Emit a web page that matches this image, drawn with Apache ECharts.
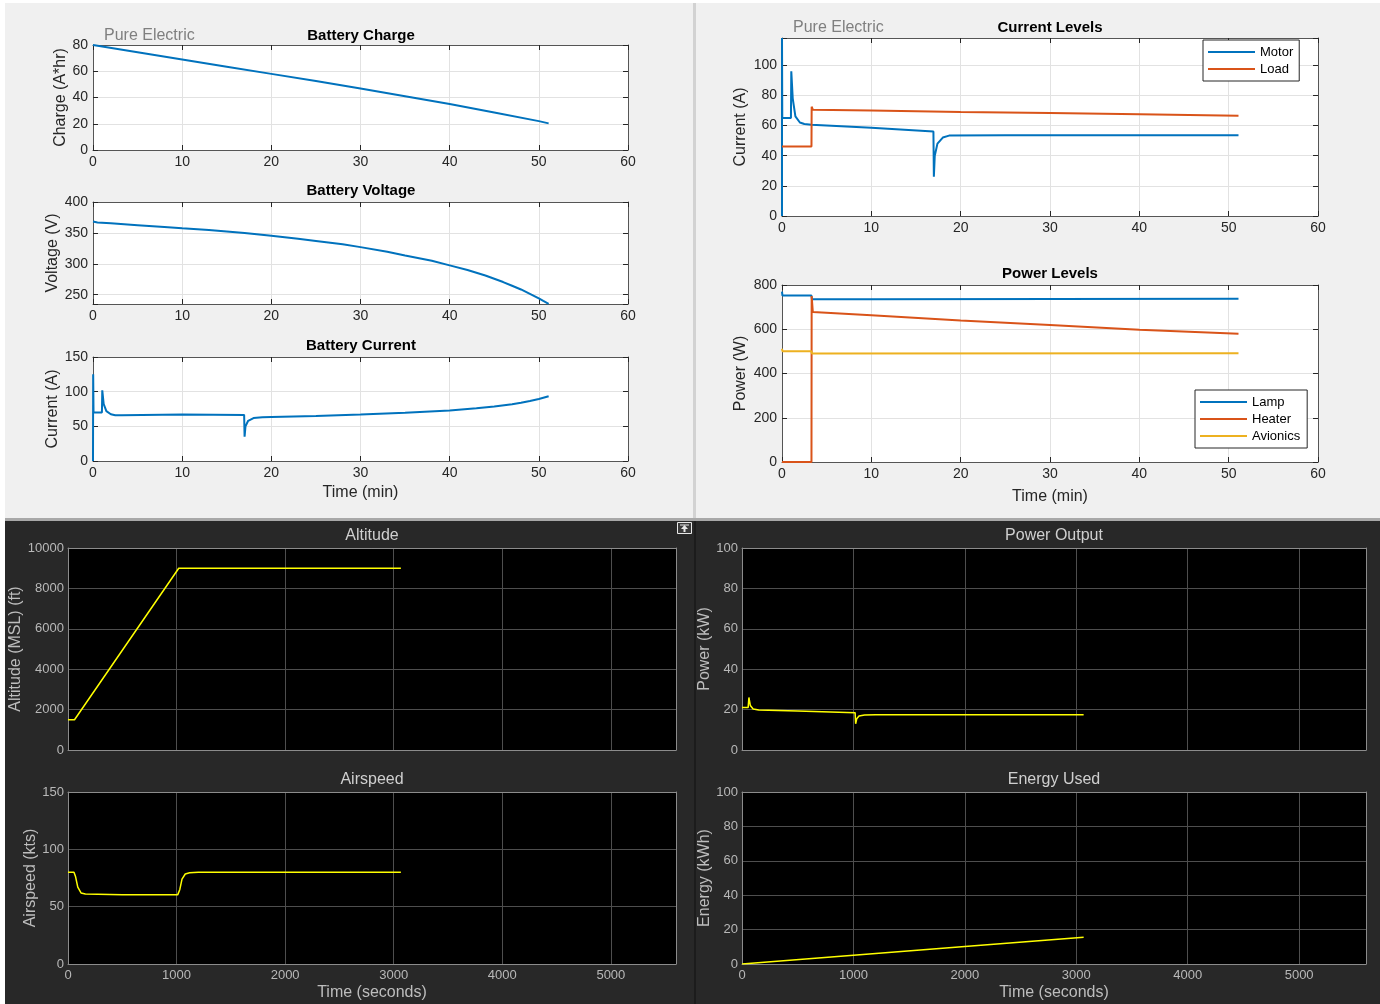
<!DOCTYPE html>
<html>
<head>
<meta charset="utf-8">
<script src="https://cdn.jsdelivr.net/npm/echarts@6/dist/echarts.min.js"></script>
<style>
html,body{margin:0;padding:0;background:#fff;}
#c{width:1380px;height:1004px;}
</style>
</head>
<body>
<div id="c"></div>
<script>
// ---------------- DATA ----------------
// Battery Charge (A*hr) vs time (min)
const chargeT = [0, 5, 10, 15, 20, 25, 30, 35, 40, 45, 50, 51.1];
const chargeV = [80, 74.5, 69, 63.5, 58, 52.5, 46.8, 41, 35, 28.5, 22, 20.3];
// Battery Voltage (V)
const voltT = [0, 0.5, 2, 5, 8, 10, 13, 15, 17, 20, 23, 25, 28, 30, 33, 35, 38, 40, 42, 44, 46, 47, 48, 49, 50, 50.5, 51.1];
const voltV = [368.5, 367, 365.5, 362.5, 359.5, 357.5, 354.8, 352.3, 349.8, 345.5, 340.5, 337, 331.5, 327, 319.5, 313.5, 305, 297.5, 290, 281, 270.5, 264.5, 258.5, 251.5, 244, 240, 235.3];
// Battery Current (A)
const battCurT = [0, 0.02, 0.06, 1.0, 1.04, 1.2, 1.5, 2.0, 2.5, 3.25, 3.3, 10, 16.95, 17.0, 17.1, 17.4, 18, 19, 20, 25, 30, 35, 40, 43, 45, 47, 48, 49, 50, 51.1];
const battCurV = [0, 125, 70, 70, 102, 82, 72, 67.5, 66, 66, 67.5, 67, 66.5, 35, 50, 58, 62, 63, 63.5, 65, 67, 69.5, 73, 76, 78.5, 82, 84, 86.5, 89.5, 93.5];
// Current Levels (A)
const motorT = [0, 0, 0.03, 1.0, 1.04, 1.2, 1.5, 2.0, 2.5, 3.3, 10, 16.95, 17.0, 17.1, 17.4, 18, 18.7, 25, 51.1];
const motorV = [0, 118, 65, 65, 96, 78, 66, 62, 61, 60.5, 58.5, 56, 26, 40, 48, 52, 53.3, 53.5, 53.5];
const loadT = [0, 3.3, 3.32, 3.45, 10, 20, 30, 40, 51.1];
const loadV = [46, 46, 72.5, 70.5, 70, 69, 68.3, 67.5, 66.5];
// Power Levels (W)
const lampT = [0, 0.05, 3.3, 3.35, 10, 51.1];
const lampV = [770, 752, 752, 736, 736, 738];
const heaterT = [0, 3.3, 3.32, 3.45, 10, 20, 30, 40, 51.1];
const heaterV = [0, 0, 750, 678, 663, 640, 619, 598, 580];
const avionicsT = [0, 0.05, 3.3, 3.35, 51.1];
const avionicsV = [512, 501, 501, 490, 491];
// Altitude (ft) vs time (s)
const altT = [0, 60, 1020, 3066];
const altV = [1500, 1500, 9000, 9000];
// Airspeed (kts)
const speedT = [0, 55, 70, 90, 120, 160, 500, 1010, 1030, 1050, 1080, 1120, 1200, 3066];
const speedV = [80, 80, 76, 67, 62, 61, 60.5, 60.3, 65, 74, 78.5, 79.5, 80, 80];
// Power Output (kW)
const pwrT = [0, 55, 62, 75, 100, 150, 500, 1015, 1020, 1030, 1050, 1100, 1200, 3066];
const pwrV = [21, 21, 26, 22, 20.3, 19.8, 19.3, 18.5, 13, 15.5, 16.8, 17.3, 17.5, 17.5];
// Energy Used (kWh)
const energyT = [0, 1000, 2000, 3066];
const energyV = [0, 5.1, 10.2, 15.5];

// ---------------- STYLE ----------------
const FONT = 'Liberation Sans, Arial, sans-serif';
const BLUE = '#0072BD', ORANGE = '#D95319', GOLD = '#EDB120', YEL = '#ffff00';
const LIGHT = {bg:'#ffffff', axis:'#555555', tick:'#262626', label:'#262626', name:'#262626', split:'#e2e2e2', size:14, ticks:true};
const DARK = {bg:'#000000', axis:'#8c8c8c', tick:'#8c8c8c', label:'#b8b8b8', name:'#bdbdbd', split:'#4e4e4e', size:13, ticks:false};

const zip = (a, b) => a.map((v, i) => [v, b[i]]);
const grids = [], xAxes = [], yAxes = [], series = [];

function fmt(interval) {
  return v => (Math.abs(v / interval - Math.round(v / interval)) < 1e-6 ? String(v) : '');
}

function panel(theme, box, xr, yr) {
  const gi = grids.length;
  grids.push({left: box[0], top: box[1], width: box[2], height: box[3], show: true,
              backgroundColor: theme.bg, borderWidth: 0, containLabel: false});
  const common = (r, pos, main) => ({
    type: 'value', gridIndex: gi, position: pos, min: r.min, max: r.max,
    interval: r.interval, minInterval: r.minInterval, maxInterval: r.maxInterval, splitNumber: r.splitNumber,
    axisLine: {show: true, onZero: false, lineStyle: {color: theme.axis, width: 1}},
    axisTick: {show: theme.ticks, inside: true, length: 5, lineStyle: {color: theme.tick}},
    axisLabel: {show: main && r.labels !== false, margin: r.margin || 5, color: theme.label,
                fontSize: theme.size, fontFamily: FONT, formatter: fmt(r.step)},
    splitLine: {show: main, lineStyle: {color: theme.split, width: 1}},
    name: main ? r.name : '', nameLocation: 'middle', nameGap: r.gap,
    nameTextStyle: {color: theme.name, fontSize: 16, fontFamily: FONT}
  });
  const xi = xAxes.length, yi = yAxes.length;
  xAxes.push(common(xr, 'bottom', true));
  xAxes.push(common(xr, 'top', false));
  yAxes.push(common(yr, 'left', true));
  yAxes.push(common(yr, 'right', false));
  return {x: xi, y: yi};
}

function line(ax, name, xs, ys, color, width) {
  series.push({type: 'line', name: name, xAxisIndex: ax.x, yAxisIndex: ax.y,
    data: zip(xs, ys), symbol: 'none', showSymbol: false, animation: false, silent: true,
    lineStyle: {color: color, width: width}, itemStyle: {color: color}});
}

const minX = {min: 0, max: 60, interval: 10, step: 10};

// Top-left
const pCharge = panel(LIGHT, [93, 45, 535, 105], minX,
  {min: 0, max: 80, interval: 20, step: 20, name: 'Charge (A*hr)', gap: 22});
const pVolt = panel(LIGHT, [93, 202, 535, 102], minX,
  {min: 235, max: 400, minInterval: 50, maxInterval: 50, splitNumber: 3, step: 50, name: 'Voltage (V)', gap: 29});
const pBattCur = panel(LIGHT, [93, 357, 535, 104], Object.assign({}, minX, {name: 'Time (min)', gap: 24}),
  {min: 0, max: 150, interval: 50, step: 50, name: 'Current (A)', gap: 29});
// Top-right
const pCurLev = panel(LIGHT, [782, 38, 536, 178], minX,
  {min: 0, max: 118, interval: 20, step: 20, name: 'Current (A)', gap: 33});
const pPowLev = panel(LIGHT, [782, 285, 536, 177], Object.assign({}, minX, {name: 'Time (min)', gap: 27}),
  {min: 0, max: 800, interval: 200, step: 200, name: 'Power (W)', gap: 33});
// Bottom-left
const secX = {min: 0, max: 5600, interval: 1000, step: 1000, labels: false};
const secXL = {min: 0, max: 5600, interval: 1000, step: 1000, name: 'Time (seconds)', gap: 21};
const pAlt = panel(DARK, [68, 548, 608, 202], secX,
  {min: 0, max: 10000, interval: 2000, step: 2000, name: 'Altitude (MSL) (ft)', gap: 41, margin: 4});
const pSpeed = panel(DARK, [68, 792, 608, 172], secXL,
  {min: 0, max: 150, interval: 50, step: 50, name: 'Airspeed (kts)', gap: 26, margin: 4});
// Bottom-right
const pPow = panel(DARK, [742, 548, 624, 202], secX,
  {min: 0, max: 100, interval: 20, step: 20, name: 'Power (kW)', gap: 26, margin: 4});
const pEnergy = panel(DARK, [742, 792, 624, 172], secXL,
  {min: 0, max: 100, interval: 20, step: 20, name: 'Energy (kWh)', gap: 26, margin: 4});

line(pCharge, 'Charge', chargeT, chargeV, BLUE, 2);
line(pVolt, 'Voltage', voltT, voltV, BLUE, 2);
line(pBattCur, 'Battery Current', battCurT, battCurV, BLUE, 2);
line(pCurLev, 'Motor', motorT, motorV, BLUE, 2);
line(pCurLev, 'Load', loadT, loadV, ORANGE, 2);
line(pPowLev, 'Lamp', lampT, lampV, BLUE, 2);
line(pPowLev, 'Heater', heaterT, heaterV, ORANGE, 2);
line(pPowLev, 'Avionics', avionicsT, avionicsV, GOLD, 2);
line(pAlt, 'Altitude', altT, altV, YEL, 1.5);
line(pSpeed, 'Airspeed', speedT, speedV, YEL, 1.5);
line(pPow, 'Power Output', pwrT, pwrV, YEL, 1.5);
line(pEnergy, 'Energy Used', energyT, energyV, YEL, 1.5);

const legendBase = {orient: 'vertical', backgroundColor: '#fff', borderColor: '#262626', borderWidth: 1,
  icon: 'rect', itemWidth: 47, itemHeight: 2, itemGap: 3, selectedMode: false,
  textStyle: {fontSize: 13, lineHeight: 14, fontFamily: FONT, color: '#000'}};

function txt(x, y, s, opt) {
  return Object.assign({type: 'text', silent: true, z: 50, x: x, y: y,
    style: Object.assign({text: s, fill: '#000', font: '16px ' + FONT, align: 'center', verticalAlign: 'middle'}, opt || {})});
}
const bold = {font: 'bold 15px ' + FONT};
const gray = {font: '16px ' + FONT, fill: '#7f7f7f', align: 'left'};
const darkT = {font: '16px ' + FONT, fill: '#cfcfcf'};

const graphics = [
  {type: 'rect', z: -100, silent: true, shape: {x: 5, y: 3, width: 688, height: 515}, style: {fill: '#f0f0f0'}},
  {type: 'rect', z: -100, silent: true, shape: {x: 696, y: 3, width: 684, height: 515}, style: {fill: '#f0f0f0'}},
  {type: 'rect', z: -100, silent: true, shape: {x: 693, y: 3, width: 3, height: 515}, style: {fill: '#d2d2d2'}},
  {type: 'rect', z: -100, silent: true, shape: {x: 5, y: 518, width: 1375, height: 3}, style: {fill: '#a8a8a8'}},
  {type: 'rect', z: -100, silent: true, shape: {x: 5, y: 521, width: 689, height: 483}, style: {fill: '#282828'}},
  {type: 'rect', z: -100, silent: true, shape: {x: 696, y: 521, width: 684, height: 483}, style: {fill: '#282828'}},
  {type: 'rect', z: -100, silent: true, shape: {x: 694, y: 521, width: 2, height: 483}, style: {fill: '#1c1c1c'}},
  // scope dock icon
  {type: 'rect', z: 50, silent: true, shape: {x: 677.5, y: 522.5, width: 14, height: 11}, style: {fill: '#3a3a3a', stroke: '#e8e8e8', lineWidth: 1}},
  {type: 'polygon', z: 51, silent: true, shape: {points: [[684.5, 525], [681, 529], [683.5, 529], [683.5, 532], [685.5, 532], [685.5, 529], [688, 529]]}, style: {fill: '#e8e8e8'}},
  {type: 'rect', z: 51, silent: true, shape: {x: 680, y: 524.5, width: 9, height: 1}, style: {fill: '#e8e8e8'}},
  txt(104, 36, 'Pure Electric', gray),
  txt(361, 36, 'Battery Charge', bold),
  txt(361, 191, 'Battery Voltage', bold),
  txt(361, 346, 'Battery Current', bold),
  txt(793, 28, 'Pure Electric', gray),
  txt(1050, 28, 'Current Levels', bold),
  txt(1050, 274, 'Power Levels', bold),
  txt(372, 536, 'Altitude', darkT),
  txt(372, 780, 'Airspeed', darkT),
  txt(1054, 536, 'Power Output', darkT),
  txt(1054, 780, 'Energy Used', darkT)
];

const chart = echarts.init(document.getElementById('c'), null, {renderer: 'canvas'});
chart.setOption({
  animation: false,
  backgroundColor: '#ffffff',
  textStyle: {fontFamily: FONT},
  grid: grids,
  xAxis: xAxes,
  yAxis: yAxes,
  series: series,
  legend: [
    Object.assign({}, legendBase, {left: 1203, top: 40, padding: [5, 6, 5, 5], data: ['Motor', 'Load']}),
    Object.assign({}, legendBase, {left: 1195, top: 390, padding: [5, 7, 5, 5], data: ['Lamp', 'Heater', 'Avionics']})
  ],
  graphic: graphics
});
</script>
</body>
</html>
